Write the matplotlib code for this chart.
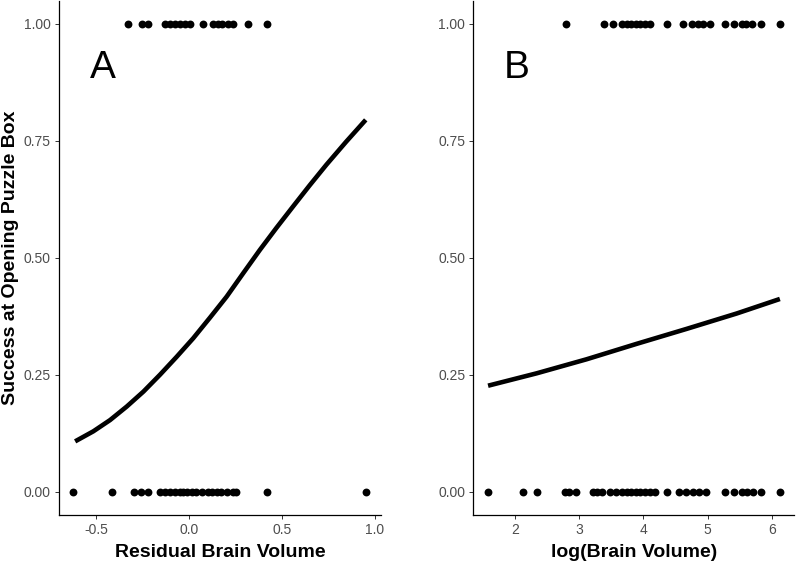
import matplotlib
matplotlib.use("Agg")
import matplotlib.pyplot as plt

plt.rcParams['font.family'] = ['Liberation Sans', 'DejaVu Sans']

# panel A: residual brain volume, success (1) / failure (0)
resid_success = [-0.33, -0.255, -0.22, -0.13, -0.10, -0.075, -0.05, -0.02, 0.005,
                 0.077, 0.13, 0.155, 0.18, 0.21, 0.235, 0.32, 0.42]
resid_fail = [-0.622, -0.412, -0.296, -0.258, -0.22, -0.156, -0.13, -0.10, -0.075,
              -0.05, -0.03, -0.01, 0.015, 0.04, 0.07, 0.10, 0.125, 0.15, 0.175,
              0.205, 0.235, 0.255, 0.421, 0.955]
# fitted curve
curve_a_x = [-0.613, -0.515, -0.425, -0.335, -0.245, -0.156, -0.067, 0.023, 0.113,
             0.203, 0.292, 0.382, 0.471, 0.561, 0.650, 0.740, 0.846, 0.952]
curve_a_y = [0.1075, 0.129, 0.153, 0.182, 0.214, 0.25, 0.288, 0.328, 0.372,
             0.417, 0.467, 0.517, 0.564, 0.610, 0.655, 0.699, 0.748, 0.795]

# panel B: log(brain volume)
logbv_success = [2.80, 3.39, 3.53, 3.67, 3.74, 3.81, 3.88, 3.95, 4.02, 4.10, 4.36,
                 4.62, 4.76, 4.84, 4.92, 5.03, 5.27, 5.41, 5.53, 5.60, 5.68, 5.83, 6.12]
logbv_fail = [1.585, 2.13, 2.35, 2.78, 2.84, 2.95, 3.21, 3.28, 3.36, 3.48, 3.58,
              3.67, 3.74, 3.81, 3.88, 3.95, 4.02, 4.10, 4.18, 4.36, 4.56, 4.66,
              4.77, 4.86, 4.97, 5.27, 5.41, 5.53, 5.61, 5.70, 5.83, 6.12]
curve_b_x = [1.585, 2.34, 3.115, 3.893, 4.67, 5.45, 6.12]
curve_b_y = [0.2265, 0.253, 0.283, 0.316, 0.348, 0.381, 0.412]

yticks = [0.0, 0.25, 0.5, 0.75, 1.0]
ytick_labels = ["0.00", "0.25", "0.50", "0.75", "1.00"]

fig = plt.figure(figsize=(7.96, 5.62), dpi=100)
ax_a = fig.add_axes([0.0741, 0.0836, 0.4045, 0.9153])
ax_b = fig.add_axes([0.5948, 0.0836, 0.4033, 0.9153])


def style(ax):
    for side in ["top", "right"]:
        ax.spines[side].set_visible(False)
    for side in ["left", "bottom"]:
        ax.spines[side].set_linewidth(0.9)
        ax.spines[side].set_color("black")
    ax.tick_params(direction="out", length=3, width=0.7, color="#333333",
                   labelcolor="#4D4D4D", labelsize=10, pad=3)
    ax.set_ylim(-0.05, 1.05)
    ax.set_yticks(yticks)
    ax.set_yticklabels(ytick_labels)


ax_a.scatter(resid_success, [1] * len(resid_success), s=32, color="black", linewidths=0, zorder=3)
ax_a.scatter(resid_fail, [0] * len(resid_fail), s=32, color="black", linewidths=0, zorder=3)
ax_a.plot(curve_a_x, curve_a_y, color="black", linewidth=3.3, solid_capstyle="butt",
          solid_joinstyle="round")
ax_a.set_xlim(-0.70, 1.034)
ax_a.set_xticks([-0.5, 0.0, 0.5, 1.0])
ax_a.set_xticklabels(["-0.5", "0.0", "0.5", "1.0"])
style(ax_a)
ax_a.text(-0.465, 0.885, "A", fontsize=28, ha="center", va="baseline")

ax_b.scatter(logbv_success, [1] * len(logbv_success), s=32, color="black", linewidths=0, zorder=3)
ax_b.scatter(logbv_fail, [0] * len(logbv_fail), s=32, color="black", linewidths=0, zorder=3)
ax_b.plot(curve_b_x, curve_b_y, color="black", linewidth=3.3, solid_capstyle="butt",
          solid_joinstyle="round")
ax_b.set_xlim(1.358, 6.347)
ax_b.set_xticks([2, 3, 4, 5, 6])
style(ax_b)
ax_b.text(2.03, 0.885, "B", fontsize=28, ha="center", va="baseline")

fig.text(220 / 796, 0.009, "Residual Brain Volume", fontsize=14, fontweight="bold",
         ha="center", va="baseline")
fig.text(634 / 796, 0.009, "log(Brain Volume)", fontsize=14, fontweight="bold",
         ha="center", va="baseline")
fig.text(11 / 796, 1 - 258 / 562, "Success at Opening Puzzle Box", fontsize=14,
         fontweight="bold", rotation=90, ha="center", va="center")

fig.savefig("out.png", dpi=100)
